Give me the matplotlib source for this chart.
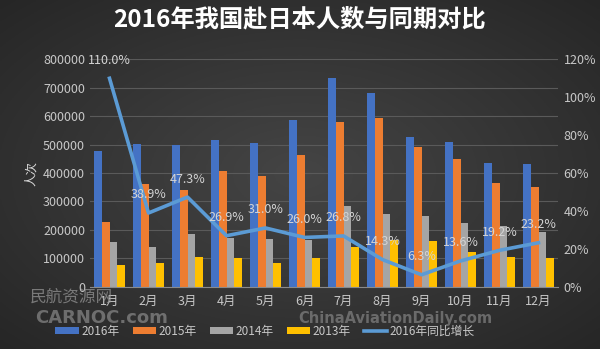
import numpy as np
import matplotlib
matplotlib.use("Agg")
import matplotlib.pyplot as plt

plt.rcParams['font.family'] = ['Noto Sans CJK SC', 'DejaVu Sans']

# 数据
meses = ['1月', '2月', '3月', '4月', '5月', '6月', '7月', '8月', '9月', '10月', '11月', '12月']
v2016 = [478000, 501000, 500000, 516000, 507000, 585000, 734000, 681000, 526000, 509000, 434000, 432000]
v2015 = [228000, 362000, 340000, 407000, 391000, 464000, 581000, 595000, 493000, 448000, 364000, 352000]
v2014 = [158000, 141000, 185000, 172000, 167000, 165000, 284000, 256000, 249000, 225000, 214000, 191000]
v2013 = [75000, 82000, 103000, 101000, 85000, 100000, 141000, 164000, 160000, 123000, 103000, 100000]
crescimento = [110.0, 38.9, 47.3, 26.9, 31.0, 26.0, 26.8, 14.3, 6.3, 13.6, 19.2, 23.2]

fig = plt.figure(figsize=(6.0, 3.49), dpi=100)

# fundo com gradiente radial
bg = fig.add_axes([0, 0, 1, 1])
yy, xx = np.mgrid[-1:1:200j, -1:1:300j]
r = np.sqrt(xx**2 + yy**2) / np.sqrt(2)
grad = 0.27 - 0.12 * r
bg.imshow(np.dstack([grad, grad, grad]), aspect='auto', extent=[0, 1, 0, 1])
bg.axis('off')

ax = fig.add_axes([0.15, 0.1785, 0.78, 0.6515])
ax.patch.set_alpha(0)
x = np.arange(len(meses))
w = 0.2
cores = ['#4472C4', '#ED7D31', '#A5A5A5', '#FFC000']
nomes = ['2016年', '2015年', '2014年', '2013年']
series = [v2016, v2015, v2014, v2013]
for i, (s, c, n) in enumerate(zip(series, cores, nomes)):
    ax.bar(x + (i - 1.5) * w, s, w, color=c, label=n, zorder=2)

ax.set_ylim(0, 800000)
ax.set_xlim(-0.5, len(meses) - 0.5)
ax.set_yticks(np.arange(0, 800001, 100000))
ax.set_yticklabels([str(v) for v in range(0, 800001, 100000)])
ax.set_xticks(x)
ax.set_xticklabels(meses)
ax.grid(axis='y', color='#5a5a5a', linewidth=0.8, zorder=0)
for s in ['top', 'right', 'left']:
    ax.spines[s].set_visible(False)
ax.spines['bottom'].set_color('#8a8a8a')
ax.tick_params(axis='both', length=0, colors='#c8c8c8', labelsize=9)
ax.tick_params(axis='x', pad=6)
ax.set_ylabel('人次', color='#d8d8d8', fontsize=9, labelpad=4)

ax2 = ax.twinx()
ax2.set_ylim(0, 120)
ax2.set_yticks(np.arange(0, 121, 20))
ax2.set_yticklabels([f'{v}%' for v in range(0, 121, 20)])
for s in ['top', 'right', 'left', 'bottom']:
    ax2.spines[s].set_visible(False)
ax2.tick_params(axis='y', length=0, colors='#c8c8c8', labelsize=9, pad=4)
ax2.plot(x, crescimento, color='#5B9BD5', linewidth=2.6, label='2016年同比增长', zorder=3)
for xi, v in zip(x, crescimento):
    ax2.annotate(f'{v:.1f}%', (xi, v), xytext=(0, 13), textcoords='offset points',
                 ha='center', va='center', color='#d4d4d4', fontsize=9)

fig.text(0.5, 0.94, '2016年我国赴日本人数与同期对比', ha='center', va='center',
         color='white', fontsize=17.5, fontweight='bold')

# marcas d'água
fig.text(0.05, 0.148, '民航资源网', color='#9a9a9a', fontsize=12, alpha=0.7, va='center')
fig.text(0.058, 0.088, 'CARNOC.com', color='#9a9a9a', fontsize=13, fontweight='bold',
         alpha=0.6, va='center', family='DejaVu Sans')
fig.text(0.497, 0.088, 'ChinaAviationDaily.com', color='#9a9a9a', fontsize=10.5, fontweight='bold',
         alpha=0.55, va='center', family='DejaVu Sans')

h1, l1 = ax.get_legend_handles_labels()
h2, l2 = ax2.get_legend_handles_labels()
leg = fig.legend(h1 + h2, l1 + l2, loc='center', bbox_to_anchor=(0.442, 0.05), ncol=5,
                 frameon=False, fontsize=8.5, labelcolor='#c8c8c8', handlelength=2.0,
                 handleheight=0.5, columnspacing=1.1, handletextpad=0.2)

fig.savefig('out.png', dpi=100)
